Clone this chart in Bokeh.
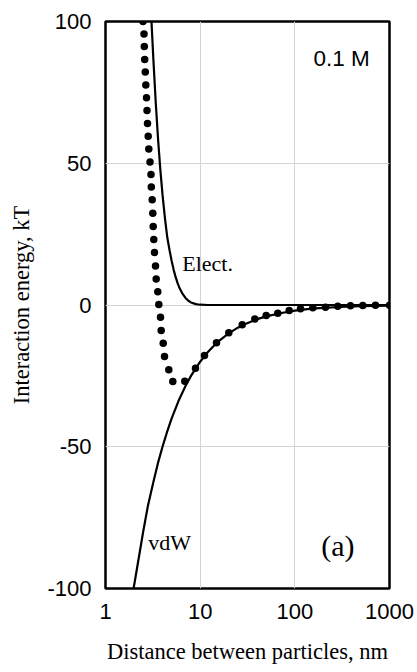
from bokeh.plotting import figure
from bokeh.models import FixedTicker, NumeralTickFormatter, Label
from bokeh.embed import file_html
from bokeh.resources import INLINE

# Total interaction energy (dotted series)
dist_total = [2.489, 2.551, 2.570, 2.595, 2.633, 2.665, 2.711, 2.744, 2.778, 2.825,
              2.867, 2.952, 3.024, 3.046, 3.113, 3.160, 3.191, 3.237, 3.293, 3.375,
              3.432, 3.568, 3.656, 3.811, 3.876, 4.070, 4.201, 4.663, 5.139, 6.88,
              8.926, 11.11, 14.88, 20.07, 27.80, 37.77, 49.84, 66.07, 87.2, 114.8,
              154.8, 210.9, 284.2, 387.1, 522.3, 711.2, 1000.0]
energy_total = [100.0, 95.6, 91.2, 86.6, 82.2, 77.6, 73.1, 68.6, 64.0, 59.5,
                55.0, 50.4, 46.0, 41.6, 37.1, 32.4, 27.7, 23.1, 18.5, 13.8,
                9.2, 4.7, 0.2, -4.3, -9.0, -13.5, -18.2, -22.8, -27.0, -26.9,
                -22.3, -17.8, -13.3, -9.8, -7.0, -4.9, -3.7, -2.9, -1.9, -1.3,
                -1.0, -0.8, -0.4, -0.3, -0.2, -0.1, -0.1]

# Electrostatic repulsion
dist_elect = [3.0, 3.06, 3.2, 3.4, 3.6, 3.8, 4.0, 4.25, 4.5, 4.75, 5.0, 5.25, 5.5,
              5.75, 6.0, 6.5, 7.0, 7.5, 8.0, 9.0, 10.0, 12.0, 20.0, 50.0, 100.0, 1000.0]
energy_elect = [106.0, 100.0, 87.0, 71.0, 58.0, 47.5, 39.0, 30.5, 23.7, 19.3, 15.5, 12.4, 9.9,
                7.9, 6.3, 4.0, 2.5, 1.5, 0.9, 0.3, 0.1, 0.0, 0.0, 0.0, 0.0, 0.0]

# van der Waals attraction
dist_vdw = [1.98, 2.2, 2.5, 2.8, 3.2, 3.6, 4.0, 4.5, 5.0, 6.0, 7.0, 8.0, 10.0, 12.0,
            15.0, 20.0, 25.0, 30.0, 40.0, 50.0, 70.0, 100.0, 150.0, 200.0, 300.0,
            500.0, 700.0, 1000.0]
energy_vdw = [-100.0, -91.0, -80.0, -71.0, -62.5, -55.5, -50.0, -44.5, -40.0, -33.3,
              -28.6, -25.0, -20.0, -16.7, -13.3, -10.0, -8.0, -6.7, -5.0, -4.0, -2.9,
              -2.0, -1.3, -1.0, -0.7, -0.4, -0.3, -0.2]

x_ticks = [1, 10, 100, 1000]
y_ticks = [-100, -50, 0, 50, 100]

x_title = "Distance between particles, nm"
y_title = "Interaction energy, kT"
conc_text = "0.1 M"
elect_text = "Elect."
vdw_text = "vdW"
panel_text = "(a)"

p = figure(width=417, height=672, x_axis_type="log", x_range=(1, 1000), y_range=(-100, 100),
           output_backend="svg", toolbar_location=None,
           min_border_left=105, min_border_right=28, min_border_top=21, min_border_bottom=84)

p.background_fill_color = "white"
p.border_fill_color = "white"
p.outline_line_color = "black"
p.outline_line_width = 2.5

p.xaxis.ticker = FixedTicker(ticks=x_ticks)
p.yaxis.ticker = FixedTicker(ticks=y_ticks)
p.xaxis.formatter = NumeralTickFormatter(format="0")
p.yaxis.formatter = NumeralTickFormatter(format="0")

for ax in (p.xaxis, p.yaxis):
    ax.axis_line_color = None
    ax.major_tick_line_color = None
    ax.minor_tick_line_color = None
    ax.major_tick_out = 0
    ax.major_tick_in = 0
    ax.minor_tick_out = 0
    ax.minor_tick_in = 0
    ax.major_label_text_font = "Liberation Sans"
    ax.major_label_text_font_size = "22px"
    ax.major_label_text_color = "black"
    ax.axis_label_text_font = "Liberation Serif"
    ax.axis_label_text_font_size = "22.5px"
    ax.axis_label_text_font_style = "normal"
    ax.axis_label_text_color = "black"

p.xaxis.axis_label = x_title
p.yaxis.axis_label = y_title
p.xaxis.major_label_standoff = 15
p.xaxis.axis_label_standoff = 17
p.yaxis.major_label_standoff = 14
p.yaxis.axis_label_standoff = 10

p.xgrid.grid_line_color = "#d4d4d4"
p.ygrid.grid_line_color = "#d4d4d4"
p.xgrid.grid_line_width = 1
p.ygrid.grid_line_width = 1

p.line(dist_elect, energy_elect, line_color="black", line_width=2.2)
p.line(dist_vdw, energy_vdw, line_color="black", line_width=2.2)
p.scatter(dist_total, energy_total, size=7.5, fill_color="black", line_color=None)

p.add_layout(Label(x=157, y=86.8, text=conc_text, text_font="Liberation Sans",
                   text_font_size="22.5px", text_baseline="alphabetic", text_color="black"))
p.add_layout(Label(x=6.46, y=14.5, text=elect_text, text_font="Liberation Serif",
                   text_font_size="22px", text_baseline="alphabetic", text_color="black"))
p.add_layout(Label(x=2.83, y=-83.9, text=vdw_text, text_font="Liberation Serif",
                   text_font_size="22px", text_baseline="alphabetic", text_color="black"))
p.add_layout(Label(x=189.8, y=-84.8, text=panel_text, text_font="Liberation Serif",
                   text_font_size="30px", text_baseline="alphabetic", text_color="black"))

open("out.html", "w").write(file_html(p, INLINE))
